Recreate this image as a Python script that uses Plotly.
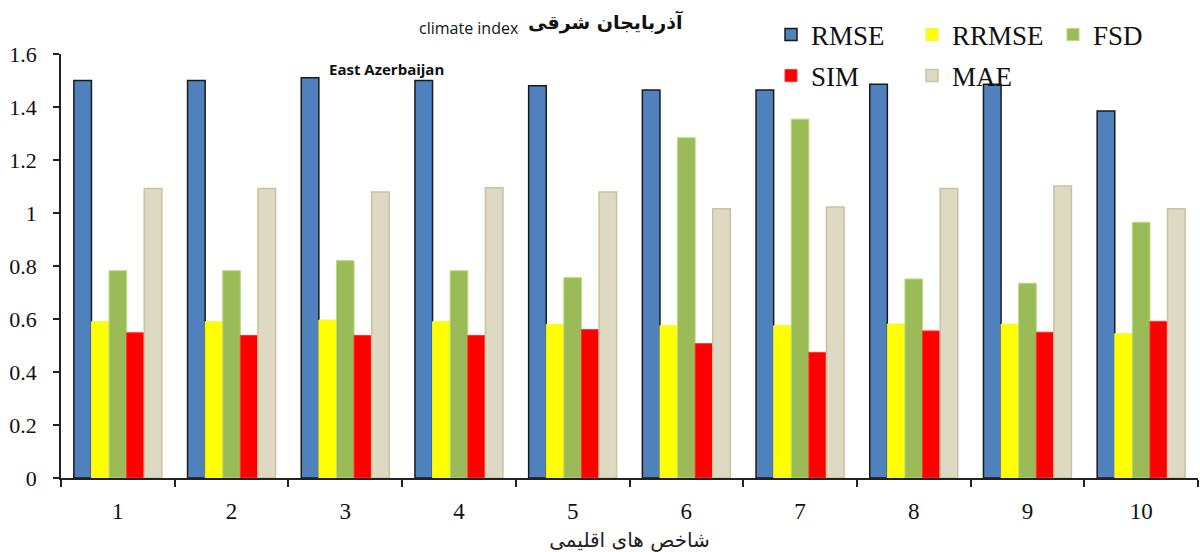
import plotly.graph_objects as go

# Climate index categories (x axis)
categories = ["1", "2", "3", "4", "5", "6", "7", "8", "9", "10"]

# Error statistics per climate index
rmse = [1.50, 1.50, 1.51, 1.50, 1.48, 1.464, 1.464, 1.486, 1.486, 1.385]
rrmse = [0.59, 0.59, 0.596, 0.59, 0.58, 0.575, 0.575, 0.581, 0.581, 0.545]
fsd = [0.782, 0.782, 0.82, 0.782, 0.756, 1.284, 1.354, 0.751, 0.735, 0.965]
sim = [0.548, 0.538, 0.538, 0.538, 0.56, 0.507, 0.474, 0.555, 0.55, 0.591]
mae = [1.092, 1.092, 1.079, 1.095, 1.079, 1.016, 1.023, 1.092, 1.102, 1.016]

y_ticks = [0, 0.2, 0.4, 0.6, 0.8, 1, 1.2, 1.4, 1.6]
y_tick_text = ["0", "0.2", "0.4", "0.6", "0.8", "1", "1.2", "1.4", "1.6"]

series = [
    ("RMSE", rmse, "#4F81BD", "#1a1a1a", 1.5, "legend"),
    ("RRMSE", rrmse, "#FFFF00", "#f2f24a", 1.0, "legend"),
    ("FSD", fsd, "#9BBB59", "#b3dc7a", 1.0, "legend"),
    ("SIM", sim, "#FF0000", "#ff3030", 1.0, "legend2"),
    ("MAE", mae, "#DDD9C3", "#c9c29f", 1.5, "legend2"),
]

fig = go.Figure()
for name, vals, fill, edge, lw, lg in series:
    fig.add_trace(go.Bar(
        name=name, x=categories, y=vals,
        marker=dict(color=fill, line=dict(color=edge, width=lw)),
        legend=lg,
    ))

# plot area geometry in pixels (used to place annotations/legends)
PLOT_L, PLOT_T, PLOT_W, PLOT_H = 61, 54, 1137, 424


def px_x(x):
    return (x - PLOT_L) / PLOT_W


def px_y(y):
    return 1 + (PLOT_T - y) / PLOT_H


serif = "Liberation Serif, Times New Roman, serif"
legend_common = dict(
    orientation="h", xref="paper", yref="paper",
    xanchor="left", yanchor="middle",
    font=dict(family=serif, size=27, color="#111"),
    bgcolor="rgba(0,0,0,0)", entrywidthmode="pixels", entrywidth=96,
    itemwidth=30, traceorder="normal",
)

fig.update_layout(
    width=1200, height=552,
    margin=dict(l=PLOT_L, r=1200 - PLOT_L - PLOT_W, t=PLOT_T,
                b=552 - PLOT_T - PLOT_H, autoexpand=False),
    paper_bgcolor="white", plot_bgcolor="white",
    barmode="group", bargap=0.226, bargroupgap=0,
    showlegend=True,
    legend=dict(x=px_x(771), y=px_y(35), **legend_common),
    legend2=dict(x=px_x(771), y=px_y(76), **legend_common),
    xaxis=dict(
        type="category", showgrid=False, showline=True,
        linecolor="#222", linewidth=1.5,
        ticks="outside", tickson="boundaries", ticklen=7,
        tickcolor="#222", tickwidth=1.5,
        tickfont=dict(family=serif, size=23, color="#111"),
        ticklabelstandoff=12,
        title=dict(text="شاخص های اقلیمی",
                   font=dict(family="DejaVu Sans", size=20, color="#222"),
                   standoff=10),
    ),
    yaxis=dict(
        range=[0, 1.6], showgrid=False, showline=True,
        linecolor="#222", linewidth=1.5,
        ticks="outside", ticklen=6, tickcolor="#222", tickwidth=1.5,
        tickvals=y_ticks, ticktext=y_tick_text,
        tickfont=dict(family=serif, size=22, color="#111"),
        ticklabelstandoff=12,
        zeroline=False,
    ),
    annotations=[
        dict(text="climate index", xref="paper", yref="paper",
             x=px_x(521), y=px_y(28),
             xanchor="right", yanchor="middle", showarrow=False,
             font=dict(family="Open Sans, Arial", size=16, color="#111")),
        dict(text="<b>آذربایجان شرقی</b>", xref="paper", yref="paper",
             x=px_x(526), y=px_y(22),
             xanchor="left", yanchor="middle", showarrow=False,
             font=dict(family="DejaVu Sans", size=19, color="#111")),
        dict(text="<b>East Azerbaijan</b>", xref="paper", yref="paper",
             x=px_x(327), y=px_y(69),
             xanchor="left", yanchor="middle", showarrow=False,
             font=dict(family="Open Sans, Arial", size=15, color="#111")),
    ],
)

fig.write_html("out.html")
